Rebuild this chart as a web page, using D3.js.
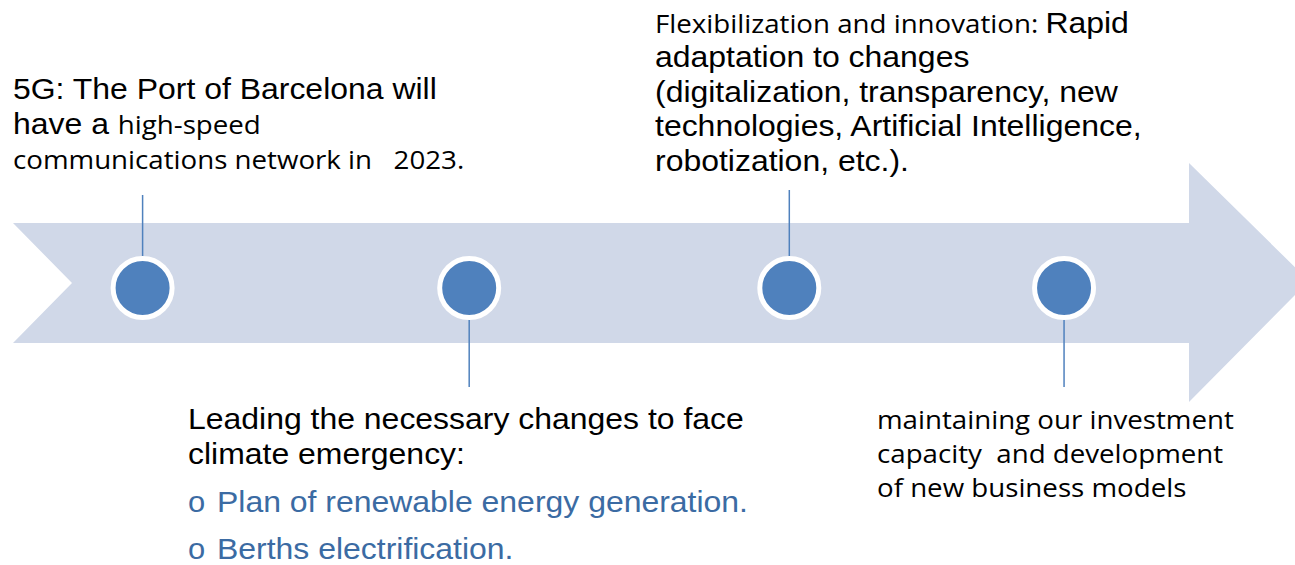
<!DOCTYPE html>
<html>
<head>
<meta charset="utf-8">
<script src="https://cdn.jsdelivr.net/npm/d3@7"></script>
<style>
  html, body { margin: 0; padding: 0; background: #fff; }
  text { white-space: pre; }
</style>
</head>
<body>
<script>
// Stages along the timeline arrow (percent of arrow length)
const stageAt = [10, 35.2, 59.9, 81.1];
// Which side the label sits on
const stageSide = ['above', 'below', 'above', 'below'];

// Label lines for each stage; each line is a list of [text, font] runs
const stageLabels = [
  [
    [['5G: The Port of Barcelona will', 'arial']],
    [['have a ', 'arial'], ['high-speed', 'calibri']],
    [['communications network in   2023.', 'calibri']]
  ],
  [
    [['Leading the necessary changes to face', 'arial']],
    [['climate emergency:', 'arial']],
    [['o', 'bullet'], ['Plan of renewable energy generation.', 'blue']],
    [['o', 'bullet'], ['Berths electrification.', 'blue']]
  ],
  [
    [['Flexibilization and innovation: ', 'calibri'], ['Rapid', 'arial']],
    [['adaptation to changes', 'arial']],
    [['(digitalization, transparency, new', 'arial']],
    [['technologies, Artificial Intelligence,', 'arial']],
    [['robotization, etc.).', 'arial']]
  ],
  [
    [['maintaining our investment', 'calibri']],
    [['capacity  and development', 'calibri']],
    [['of new business models', 'calibri']]
  ]
];

const W = 1295, H = 565;
const BLUE = '#4F81BD';
const ARROW = '#D0D8E8';
const STRETCH = 1.065; // source text is slightly wider than tall

const fonts = {
  arial:   {family: 'Liberation Sans, Arial, sans-serif', size: 30, fill: '#000'},
  calibri: {family: 'Open Sans, sans-serif', size: 26, fill: '#000'},
  blue:    {family: 'Liberation Sans, Arial, sans-serif', size: 30, fill: '#3B6BA3'},
  bullet:  {family: 'Liberation Sans, Arial, sans-serif', size: 29, fill: '#3B6BA3'}
};

const svg = d3.select('body').append('svg')
  .attr('width', W)
  .attr('height', H);

// Arrow geometry
const BODY_TOP = 223, BODY_BOTTOM = 343, MID = 288;
const ARROW_LEFT = 13, NOTCH = 59;
const HEAD_X = 1189, HEAD_TOP = 163, HEAD_BOTTOM = 402, TIP_X = 1309;

const x = d3.scaleLinear().domain([0, 100]).range([ARROW_LEFT, TIP_X]);

const arrowPts = [
  [ARROW_LEFT, BODY_TOP], [HEAD_X, BODY_TOP], [HEAD_X, HEAD_TOP],
  [TIP_X, (BODY_TOP + BODY_BOTTOM) / 2 - 2], [HEAD_X, HEAD_BOTTOM], [HEAD_X, BODY_BOTTOM],
  [ARROW_LEFT, BODY_BOTTOM], [ARROW_LEFT + NOTCH, (BODY_TOP + BODY_BOTTOM) / 2]
];
svg.append('path')
  .attr('d', d3.line()(arrowPts) + 'Z')
  .attr('fill', ARROW);

const R = 29.5;
const STEM_TOP = [195, 0, 190, 0];
const STEM_BOTTOM = 387;

const stages = d3.range(stageAt.length);

svg.selectAll('line.stem')
  .data(stages)
  .enter()
  .append('line')
    .attr('class', 'stem')
    .attr('x1', d => x(stageAt[d]))
    .attr('x2', d => x(stageAt[d]))
    .attr('y1', d => stageSide[d] === 'above' ? STEM_TOP[d] : MID + R)
    .attr('y2', d => stageSide[d] === 'above' ? MID - R : STEM_BOTTOM)
    .attr('stroke', BLUE)
    .attr('stroke-width', 1.5);

svg.selectAll('circle.stage')
  .data(stages)
  .enter()
  .append('circle')
    .attr('class', 'stage')
    .attr('cx', d => x(stageAt[d]))
    .attr('cy', MID)
    .attr('r', R)
    .attr('fill', BLUE)
    .attr('stroke', '#fff')
    .attr('stroke-width', 5);

// Label placement: left edge and first baseline, line gaps
const labelBox = [
  {x: 13, y: 99, gap: 35},
  {x: 188, y: 429, gap: [35, 48, 47]},
  {x: 655, y: 33, gap: 34.5},
  {x: 877, y: 429, gap: 34}
];
const BULLET_INDENT = 29;

stageLabels.forEach((lines, i) => {
  const box = labelBox[i];
  const g = svg.append('g')
    .attr('class', 'label')
    .attr('transform', `translate(${box.x},0) scale(${STRETCH},1)`);
  let y = box.y;
  lines.forEach((runs, j) => {
    if (j > 0) y += Array.isArray(box.gap) ? box.gap[j - 1] : box.gap;
    const t = g.append('text').attr('x', 0).attr('y', y);
    runs.forEach(([txt, f], k) => {
      const st = fonts[f];
      const span = t.append('tspan')
        .attr('font-family', st.family)
        .attr('font-size', st.size)
        .attr('fill', st.fill)
        .text(txt);
      if (runs[0][1] === 'bullet' && k === 1) span.attr('x', BULLET_INDENT / STRETCH);
    });
  });
});
</script>
</body>
</html>
